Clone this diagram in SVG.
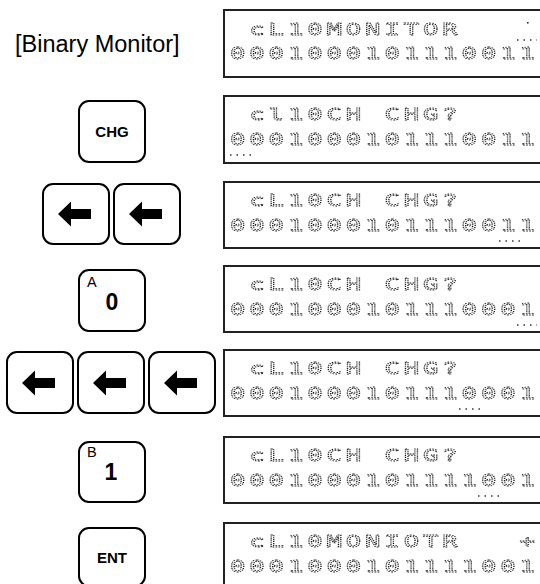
<svg xmlns="http://www.w3.org/2000/svg" xmlns:xlink="http://www.w3.org/1999/xlink" width="540" height="584" viewBox="0 0 540 584">
<style>
.key{fill:#fff;stroke:#000;stroke-width:2}
.lcd{fill:#fff;stroke:#222;stroke-width:2}
.kt{font-family:"Liberation Sans",Arial,sans-serif;font-weight:bold;font-size:15px;fill:#000;text-anchor:middle}
.sub{font-family:"Liberation Sans",Arial,sans-serif;font-size:14.5px;fill:#000}
.big{font-family:"Liberation Sans",Arial,sans-serif;font-weight:bold;font-size:23px;fill:#000;text-anchor:middle}
.title{font-family:"Liberation Sans",Arial,sans-serif;font-size:23.5px;fill:#000}
.dm{font-family:"DejaVu Sans Mono","Liberation Mono",monospace;font-size:16.5px;letter-spacing:2.52px;fill:none;stroke:#1a1a1a;stroke-width:1.15;stroke-dasharray:1.4 1.1;vector-effect:non-scaling-stroke;filter:url(#gray)}
.cur{stroke:#333;stroke-width:1.5;stroke-dasharray:1.5 5}
</style>
<defs>
<filter id="gray" x="-5%" y="-20%" width="110%" height="140%"><feOffset dx="0" dy="0"/></filter>
<path id="arr" d="M-18,0 L-5,-12.5 L-5,-5 L15,-5 L15,5 L-5,5 L-5,12.5 Z" fill="#000"/>
</defs>

<g id="title"><text class="title" x="15" y="52">[Binary Monitor]</text></g>

<g id="key-chg"><rect class="key" x="79" y="101" width="66" height="61" rx="10"/><text class="kt" x="112" y="137">CHG</text></g>
<g id="key-left-1a"><rect class="key" x="43" y="184" width="66" height="60" rx="10"/><use xlink:href="#arr" x="76" y="214"/></g>
<g id="key-left-1b"><rect class="key" x="114" y="184" width="66" height="60" rx="10"/><use xlink:href="#arr" x="147" y="214"/></g>
<g id="key-0"><rect class="key" x="79" y="270" width="66" height="61" rx="10"/><text class="sub" x="87" y="287">A</text><text class="big" x="112" y="310">0</text></g>
<g id="key-left-2a"><rect class="key" x="7" y="352" width="66" height="61" rx="10"/><use xlink:href="#arr" x="40" y="383"/></g>
<g id="key-left-2b"><rect class="key" x="78" y="352" width="66" height="61" rx="10"/><use xlink:href="#arr" x="111" y="383"/></g>
<g id="key-left-2c"><rect class="key" x="149" y="352" width="66" height="61" rx="10"/><use xlink:href="#arr" x="182" y="383"/></g>
<g id="key-1"><rect class="key" x="79" y="442" width="66" height="60" rx="10"/><text class="sub" x="87" y="457">B</text><text class="big" x="111" y="480">1</text></g>
<g id="key-ent"><rect class="key" x="79" y="528" width="66" height="58" rx="10"/><text class="kt" x="112" y="563">ENT</text></g>

<g id="screen-1">
<rect class="lcd" x="224" y="10" width="340" height="67"/>
<text class="dm" transform="matrix(1.55 0 0 1 249.3 35)">cL10MONITOR</text>
<text class="dm" transform="matrix(1.55 0 0 1 230 59)">0001000101110011</text>
<rect x="527" y="22" width="1.6" height="1.6" fill="#333"/>
<line class="cur" x1="517" y1="40" x2="537" y2="40"/>
</g>
<g id="screen-2">
<rect class="lcd" x="224" y="96" width="340" height="67"/>
<text class="dm" transform="matrix(1.55 0 0 1 249.3 120)">cl10CH CHG?</text>
<text class="dm" transform="matrix(1.55 0 0 1 230 145)">0001000101110011</text>
<line class="cur" x1="230" y1="155" x2="251" y2="155"/>
</g>
<g id="screen-3">
<rect class="lcd" x="224" y="182" width="340" height="66"/>
<text class="dm" transform="matrix(1.55 0 0 1 249.3 206)">cL10CH CHG?</text>
<text class="dm" transform="matrix(1.55 0 0 1 230 231)">0001000101110011</text>
<line class="cur" x1="499" y1="241" x2="520" y2="241"/>
</g>
<g id="screen-4">
<rect class="lcd" x="224" y="266" width="340" height="66"/>
<text class="dm" transform="matrix(1.55 0 0 1 249.3 290)">cL10CH CHG?</text>
<text class="dm" transform="matrix(1.55 0 0 1 230 315)">0001000101110001</text>
<line class="cur" x1="517" y1="325" x2="537" y2="325"/>
</g>
<g id="screen-5">
<rect class="lcd" x="224" y="350" width="340" height="66"/>
<text class="dm" transform="matrix(1.55 0 0 1 249.3 374)">cL10CH CHG?</text>
<text class="dm" transform="matrix(1.55 0 0 1 230 399)">0001000101110001</text>
<line class="cur" x1="459" y1="409" x2="480" y2="409"/>
</g>
<g id="screen-6">
<rect class="lcd" x="224" y="437" width="340" height="66"/>
<text class="dm" transform="matrix(1.55 0 0 1 249.3 461)">cL10CH CHG?</text>
<text class="dm" transform="matrix(1.55 0 0 1 230 486)">0001000101111001</text>
<line class="cur" x1="478" y1="496" x2="499" y2="496"/>
</g>
<g id="screen-7">
<rect class="lcd" x="224" y="523" width="340" height="70"/>
<text class="dm" transform="matrix(1.55 0 0 1 249.3 547)">cL10MONIOTR</text>
<text class="dm" transform="matrix(1.55 0 0 1 519.5 547)">+</text>
<text class="dm" transform="matrix(1.55 0 0 1 230 572)">0001000101111001</text>
</g>
</svg>
